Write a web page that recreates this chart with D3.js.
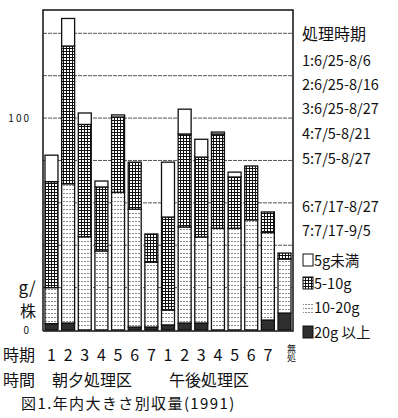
<!DOCTYPE html>
<html>
<head>
<meta charset="utf-8">
<script src="https://cdn.jsdelivr.net/npm/d3@7"></script>
<style>
  body { margin: 0; background: #fff; }
  text { font-family: "Noto Sans CJK JP", "DejaVu Sans", sans-serif; fill: #111; }
</style>
</head>
<body>
<div id="chart"></div>
<script>
// 処理時期 (period number) for each bar, 朝夕 x7, 午後 x7, 無処理
const periods = ['1', '2', '3', '4', '5', '6', '7', '1', '2', '3', '4', '5', '6', '7', '無処'];

// g/株 by size class
const over20 = [3, 3.3, 0, 0, 0, 1.4, 1.4, 2.4, 3.3, 3.3, 0, 0, 0, 4.7, 8];
const from10to20 = [17, 65.7, 44, 37.3, 65, 55.6, 30.6, 7, 45.3, 40.6, 48, 48, 52, 41.3, 25.5];
const from5to10 = [50, 65, 53, 30.2, 35.5, 22.2, 13.3, 43.9, 43.9, 37.7, 44.5, 24.2, 25.4, 9.7, 2.8];
const under5 = [12.5, 13, 5.4, 2.8, 1, 0, 0, 25.9, 11.7, 8.4, 0.9, 2.3, 0, 0, 0];

const seriesKeys = ['over20', 'from10to20', 'from5to10', 'under5'];
const legendLabels = ['5g未満', '5-10g', '10-20g', '20g 以上'];
const periodLegend = ['1:6/25-8/6', '2:6/25-8/16', '3:6/25-8/27', '4:7/5-8/21', '5:7/5-8/27', '6:7/17-8/27', '7:7/17-9/5'];
const gridValues = [20, 40, 60, 80, 100, 120, 140];

const W = 398, H = 418;
const plotLeft = 43, plotRight = 293, plotTop = 10, base = 330;

const rows = periods.map((p, i) => ({
  period: i,
  over20: over20[i],
  from10to20: from10to20[i],
  from5to10: from5to10[i],
  under5: under5[i]
}));

const svg = d3.select('#chart').append('svg')
  .attr('width', W)
  .attr('height', H);

const defs = svg.append('defs');

// crosshatch for 5-10g
const grid = defs.append('pattern')
  .attr('id', 'pat-grid')
  .attr('patternUnits', 'userSpaceOnUse')
  .attr('width', 3).attr('height', 3);
grid.append('rect').attr('width', 3).attr('height', 3).attr('fill', '#fff');
grid.append('path')
  .attr('d', 'M0 0.5H3M0.5 0V3')
  .attr('stroke', '#111')
  .attr('stroke-width', 1);

// light dots for 10-20g
const dots = defs.append('pattern')
  .attr('id', 'pat-dots')
  .attr('patternUnits', 'userSpaceOnUse')
  .attr('width', 3).attr('height', 4);
dots.append('rect').attr('width', 3).attr('height', 4).attr('fill', '#fff');
dots.append('rect').attr('x', 0).attr('y', 1).attr('width', 2).attr('height', 1).attr('fill', '#8a8a8a');

const fills = {
  over20: '#2e2e2e',
  from10to20: 'url(#pat-dots)',
  from5to10: 'url(#pat-grid)',
  under5: '#fff'
};

const x = d3.scaleBand()
  .domain(d3.range(periods.length))
  .range([plotLeft, plotRight])
  .paddingInner(0.22)
  .paddingOuter(0.12);

const y = d3.scaleLinear()
  .domain([0, 151])
  .range([base, plotTop]);

// gridlines
svg.append('g')
  .selectAll('line')
  .data(gridValues)
  .join('line')
  .attr('x1', plotLeft).attr('x2', plotRight)
  .attr('y1', d => y(d)).attr('y2', d => y(d))
  .attr('stroke', '#555')
  .attr('stroke-width', 1)
  .attr('stroke-dasharray', '4,1');

// stacked bars
const stack = d3.stack().keys(seriesKeys);
const layers = stack(rows);

svg.append('g')
  .selectAll('g')
  .data(layers)
  .join('g')
  .attr('fill', d => fills[d.key])
  .selectAll('rect')
  .data(d => d.filter(s => s[1] - s[0] > 0))
  .join('rect')
  .attr('x', d => x(d.data.period))
  .attr('width', x.bandwidth())
  .attr('y', d => y(d[1]))
  .attr('height', d => y(d[0]) - y(d[1]))
  .attr('stroke', '#111')
  .attr('stroke-width', 1.3);

// frame
svg.append('path')
  .attr('d', `M${plotLeft},${base + 1}V${plotTop}H${plotRight}V${base + 1}H${plotLeft}`)
  .attr('fill', 'none')
  .attr('stroke', '#111')
  .attr('stroke-width', 1.5);

// y labels
const yAxis = svg.append('g')
  .attr('transform', `translate(${plotLeft - 9},0)`)
  .call(d3.axisLeft(y).tickValues([0, 100]).tickSize(0).tickFormat(d3.format('d')));
yAxis.select('.domain').remove();
yAxis.selectAll('text')
  .attr('font-size', 10)
  .attr('letter-spacing', 2)
  .attr('font-family', '"DejaVu Sans", sans-serif');

svg.append('text').attr('x', 27).attr('y', 294).attr('text-anchor', 'middle')
  .attr('font-size', 17).text('g/');
svg.append('text').attr('x', 28).attr('y', 317).attr('text-anchor', 'middle')
  .attr('font-size', 16).text('株');

// period numbers under bars
svg.append('text').attr('x', 3).attr('y', 361).attr('font-size', 16).text('時期');
svg.append('g')
  .selectAll('text')
  .data(periods.slice(0, -1))
  .join('text')
  .attr('x', (d, i) => x(i) + x.bandwidth() / 2)
  .attr('y', 361)
  .attr('text-anchor', 'middle')
  .attr('font-size', 16)
  .text(d => d);

// 無処理 label squeezed vertically under the last bar
const last = periods[periods.length - 1];
svg.append('text')
  .attr('x', x(periods.length - 1) + x.bandwidth() / 2 + 7)
  .attr('y', 344)
  .attr('font-size', 9)
  .style('writing-mode', 'vertical-rl')
  .text(last);

svg.append('text').attr('x', 3).attr('y', 386).attr('font-size', 16).text('時間');
svg.append('text').attr('x', 92).attr('y', 386).attr('text-anchor', 'middle')
  .attr('font-size', 16).text('朝夕処理区');
svg.append('text').attr('x', 209).attr('y', 386).attr('text-anchor', 'middle')
  .attr('font-size', 16).text('午後処理区');
svg.append('text').attr('x', 21).attr('y', 409).attr('font-size', 15)
  .attr('letter-spacing', 1.4)
  .text('図1.年内大きさ別収量(1991)');

// right legend
const lx = 302;
svg.append('text').attr('x', lx).attr('y', 40).attr('font-size', 16).text('処理時期');
const periodY = [66, 90, 114, 139, 164, 212, 236];
svg.append('g')
  .selectAll('text')
  .data(periodLegend)
  .join('text')
  .attr('x', lx)
  .attr('y', (d, i) => periodY[i])
  .attr('font-size', 14.5)
  .text(d => d);

const swatchKeys = ['under5', 'from5to10', 'from10to20', 'over20'];
const swY = [260, 283, 307, 332];
const sw = svg.append('g')
  .selectAll('g')
  .data(swatchKeys)
  .join('g')
  .attr('transform', (d, i) => `translate(${lx},${swY[i]})`);
sw.append('rect')
  .attr('x', 1).attr('y', -6)
  .attr('width', 10).attr('height', 12)
  .attr('fill', d => fills[d])
  .attr('stroke', (d, i) => i === 2 ? 'none' : '#111')
  .attr('stroke-width', 1);
sw.append('text')
  .attr('x', 12)
  .attr('y', 6)
  .attr('font-size', 14.5)
  .text((d, i) => legendLabels[i]);
</script>
</body>
</html>
